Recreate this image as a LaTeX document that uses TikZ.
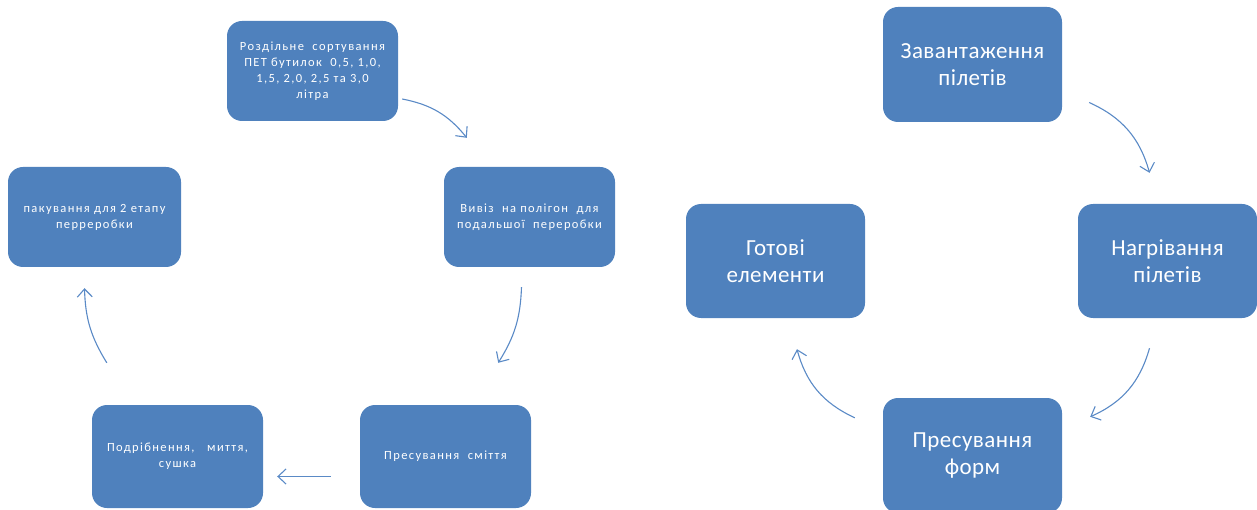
\documentclass[tikz,border=0pt]{standalone}
\usepackage{fontspec}
\setmainfont{Carlito}
\usetikzlibrary{arrows.meta}
\definecolor{boxblue}{HTML}{4F81BD}
\definecolor{arrblue}{HTML}{5A8AC6}
\begin{document}
\begin{tikzpicture}[x=1pt, y=-1pt,
  box/.style={rectangle, rounded corners=15pt, fill=boxblue, text=white, align=center,
    minimum width=171pt, minimum height=100pt, inner sep=0pt,
    font=\fontsize{12.5}{16}\selectfont\addfontfeatures{LetterSpace=11}},
  bigbox/.style={box, minimum width=179pt, minimum height=115pt,
    font=\fontsize{23}{27}\selectfont\addfontfeatures{LetterSpace=2}},
  arr/.style={arrblue, line width=1.1pt, -{Straight Barb[length=8pt,width=15pt]}}]

  \useasboundingbox (0,0) rectangle (1257,510);

  \node[box] (sort) at (312.5,71) {Роздільне \ сортування\\ПЕТ бутилок \ 0,5, 1,0,\\1,5, 2,0, 2,5 та 3,0\\літра};
  \node[box] (vyviz) at (529.5,217) {Вивіз \ на полігон \ для\\подальшої \ переробки};
  \node[box, minimum height=103pt] (press) at (445.5,456.5) {Пресування \ сміття};
  \node[box, minimum height=103pt] (podr) at (177.5,456.5) {Подрібнення, \ \ миття,\\сушка};
  \node[box, minimum width=173pt] (pak) at (94.5,217) {пакування для 2 етапу\\перреробки};

  \draw[arr] ([shift={(4,28)}]sort.east) to[bend left=20] ([shift={(23,-29)}]vyviz.north west);
  \draw[arr] ([shift={(-8,20)}]vyviz.south) to[bend left=15] ([shift={(-33,-42)}]press.north east);
  \draw[arr] ([shift={(-29,20)}]press.west) -- ([shift={(14,20)}]podr.east);
  \draw[arr] ([shift={(15,-42)}]podr.north west) to[bend left=15] ([shift={(-10,21)}]pak.south);

  \node[bigbox] (zavant) at (972.5,64.5) {Завантаження\\пілетів};
  \node[bigbox, minimum height=114pt] (nagriv) at (1167.5,261) {Нагрівання\\пілетів};
  \node[bigbox] (presform) at (972.5,455.5) {Пресування\\форм};
  \node[bigbox, minimum height=114pt] (gotovi) at (775.5,261) {Готові\\елементи};

  \draw[arr] ([shift={(27,38)}]zavant.east) to[bend left=25] ([shift={(-18,-31)}]nagriv.north);
  \draw[arr] ([shift={(-18,30)}]nagriv.south) to[bend left=25] ([shift={(28,19)}]presform.north east);
  \draw[arr] ([shift={(-28,20)}]presform.north west) to[bend left=25] ([shift={(21.5,31)}]gotovi.south);

\end{tikzpicture}
\end{document}
